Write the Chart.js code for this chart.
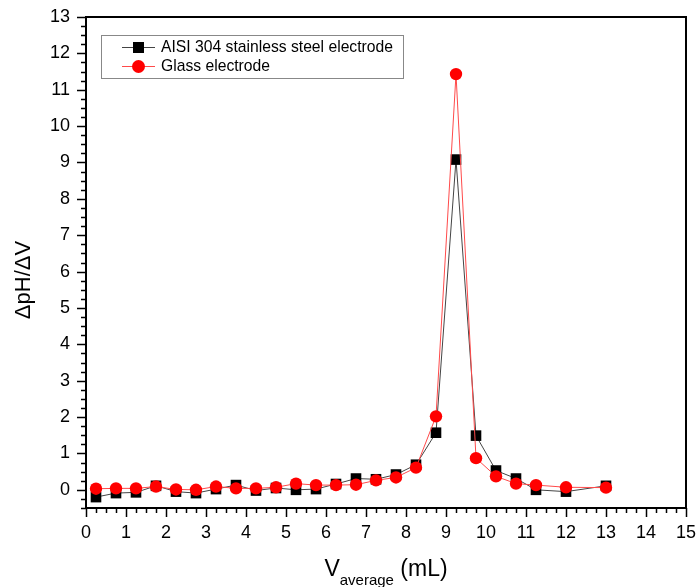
<!DOCTYPE html>
<html>
<head>
<meta charset="utf-8">
<script src="https://cdn.jsdelivr.net/npm/chart.js@4.4.0/dist/chart.umd.min.js"></script>
<style>
html,body{margin:0;padding:0;background:#fff;}
#wrap{width:699px;height:587px;}
</style>
</head>
<body>
<div id="wrap"><canvas id="c" width="699" height="587"></canvas></div>
<script>
// volume (mL) at mid-point of each addition
const vAvg=[0.25,0.75,1.25,1.75,2.25,2.75,3.25,3.75,4.25,4.75,5.25,5.75,6.25,6.75,7.25,7.75,8.25,8.75,9.25,9.75,10.25,10.75,11.25,12,13];
const steelVals=[-0.2,-0.09,-0.07,0.11,-0.05,-0.09,0.02,0.13,-0.02,0.05,0.0,0.02,0.16,0.31,0.29,0.42,0.69,1.57,9.08,1.49,0.53,0.31,0.0,-0.05,0.11];
const glassVals=[0.03,0.04,0.04,0.09,0.01,0.0,0.09,0.04,0.04,0.07,0.17,0.13,0.13,0.14,0.26,0.34,0.61,2.02,11.43,0.87,0.37,0.17,0.13,0.07,0.06];
const xTicks=[0,1,2,3,4,5,6,7,8,9,10,11,12,13,14,15];
const yTicks=[0,1,2,3,4,5,6,7,8,9,10,11,12,13];
const seriesNames=['AISI 304 stainless steel electrode','Glass electrode'];

const FONT='"Liberation Sans", Arial, sans-serif';

const pts=(ys)=>vAvg.map((x,i)=>({x:x,y:ys[i]}));

// frame, minor/major ticks, axis titles and legend
const decor={
  id:'decor',
  afterDraw(chart){
    const ctx=chart.ctx, a=chart.chartArea;
    const xs=chart.scales.x, ys=chart.scales.y;
    ctx.save();
    ctx.strokeStyle='#000';
    ctx.lineWidth=2;
    ctx.strokeRect(a.left,a.top,a.right-a.left,a.bottom-a.top);
    ctx.lineWidth=1.5;
    ctx.beginPath();
    for(let v=0;v<=15.001;v+=0.25){
      const p=Math.round(xs.getPixelForValue(v))+0.5;
      const len=Math.abs(v-Math.round(v))<1e-6?9:5;
      ctx.moveTo(p,a.bottom);ctx.lineTo(p,a.bottom+len);
    }
    for(let v=-0.5;v<=13.001;v+=0.25){
      const p=Math.round(ys.getPixelForValue(v))+0.5;
      const len=Math.abs(v-Math.round(v))<1e-6?9:5;
      ctx.moveTo(a.left,p);ctx.lineTo(a.left-len,p);
    }
    ctx.stroke();

    // y title
    ctx.fillStyle='#000';
    ctx.save();
    ctx.translate(30,280);
    ctx.rotate(-Math.PI/2);
    ctx.font='22px '+FONT;
    ctx.textAlign='center';
    ctx.textBaseline='alphabetic';
    ctx.fillText('\u0394pH/\u0394V',0,0);
    ctx.restore();

    // x title with subscript
    ctx.textBaseline='alphabetic';
    ctx.textAlign='left';
    const big='23px '+FONT, small='15px '+FONT;
    ctx.font=big; const wV=ctx.measureText('V').width;
    ctx.font=small; const wSub=ctx.measureText('average').width;
    ctx.font=big; const wRest=ctx.measureText(' (mL)').width;
    let x0=(a.left+a.right)/2-(wV+wSub+wRest)/2;
    const base=576;
    ctx.font=big; ctx.fillText('V',x0,base); x0+=wV;
    ctx.font=small; ctx.fillText('average',x0,base+9); x0+=wSub;
    ctx.font=big; ctx.fillText(' (mL)',x0,base);

    // legend
    ctx.strokeStyle='#888';
    ctx.lineWidth=1;
    ctx.strokeRect(101.5,35.5,302,43);
    ctx.font='15.7px '+FONT;
    ctx.textBaseline='middle';
    const rows=[{y:47,ds:chart.data.datasets[0]},{y:66,ds:chart.data.datasets[1]}];
    rows.forEach(r=>{
      ctx.strokeStyle=r.ds.borderColor;
      ctx.beginPath();ctx.moveTo(122,r.y+0.5);ctx.lineTo(155,r.y+0.5);ctx.stroke();
      ctx.fillStyle=r.ds.pointBackgroundColor;
      if(r.ds.pointStyle==='rect'){ctx.fillRect(133,r.y-5,11,11);}
      else{ctx.beginPath();ctx.arc(138.5,r.y+0.5,6.5,0,Math.PI*2);ctx.fill();}
      ctx.fillStyle='#000';
      ctx.fillText(r.ds.label,161,r.y+1);
    });
    ctx.restore();
  }
};

new Chart(document.getElementById('c'),{
  type:'line',
  data:{datasets:[
    {label:seriesNames[0],data:pts(steelVals),borderColor:'#444',borderWidth:1,
     pointStyle:'rect',pointRadius:7.5,pointBackgroundColor:'#000',pointBorderColor:'#000',pointBorderWidth:0,order:2},
    {label:seriesNames[1],data:pts(glassVals),borderColor:'#ff4a4a',borderWidth:1,
     pointStyle:'circle',pointRadius:6.2,pointBackgroundColor:'#ff0000',pointBorderColor:'#ff0000',pointBorderWidth:0,order:1}
  ]},
  options:{
    responsive:false,animation:false,
    layout:{padding:{left:0,right:13,top:17,bottom:0}},
    plugins:{legend:{display:false},tooltip:{enabled:false}},
    scales:{
      x:{type:'linear',min:0,max:15,
        afterBuildTicks:s=>{s.ticks=xTicks.map(v=>({value:v}));},
        afterFit:s=>{s.height=79;s.paddingLeft=0;s.paddingRight=0;},
        grid:{display:false,drawTicks:false},border:{display:false},
        ticks:{color:'#000',font:{family:FONT,size:18},padding:14,maxRotation:0}},
      y:{type:'linear',min:-0.5,max:13,
        afterBuildTicks:s=>{s.ticks=yTicks.map(v=>({value:v}));},
        afterFit:s=>{s.width=86;s.paddingTop=0;s.paddingBottom=0;},
        grid:{display:false,drawTicks:false},border:{display:false},
        ticks:{color:'#000',font:{family:FONT,size:18},padding:16}}
    }
  },
  plugins:[decor]
});
</script>
</body>
</html>
